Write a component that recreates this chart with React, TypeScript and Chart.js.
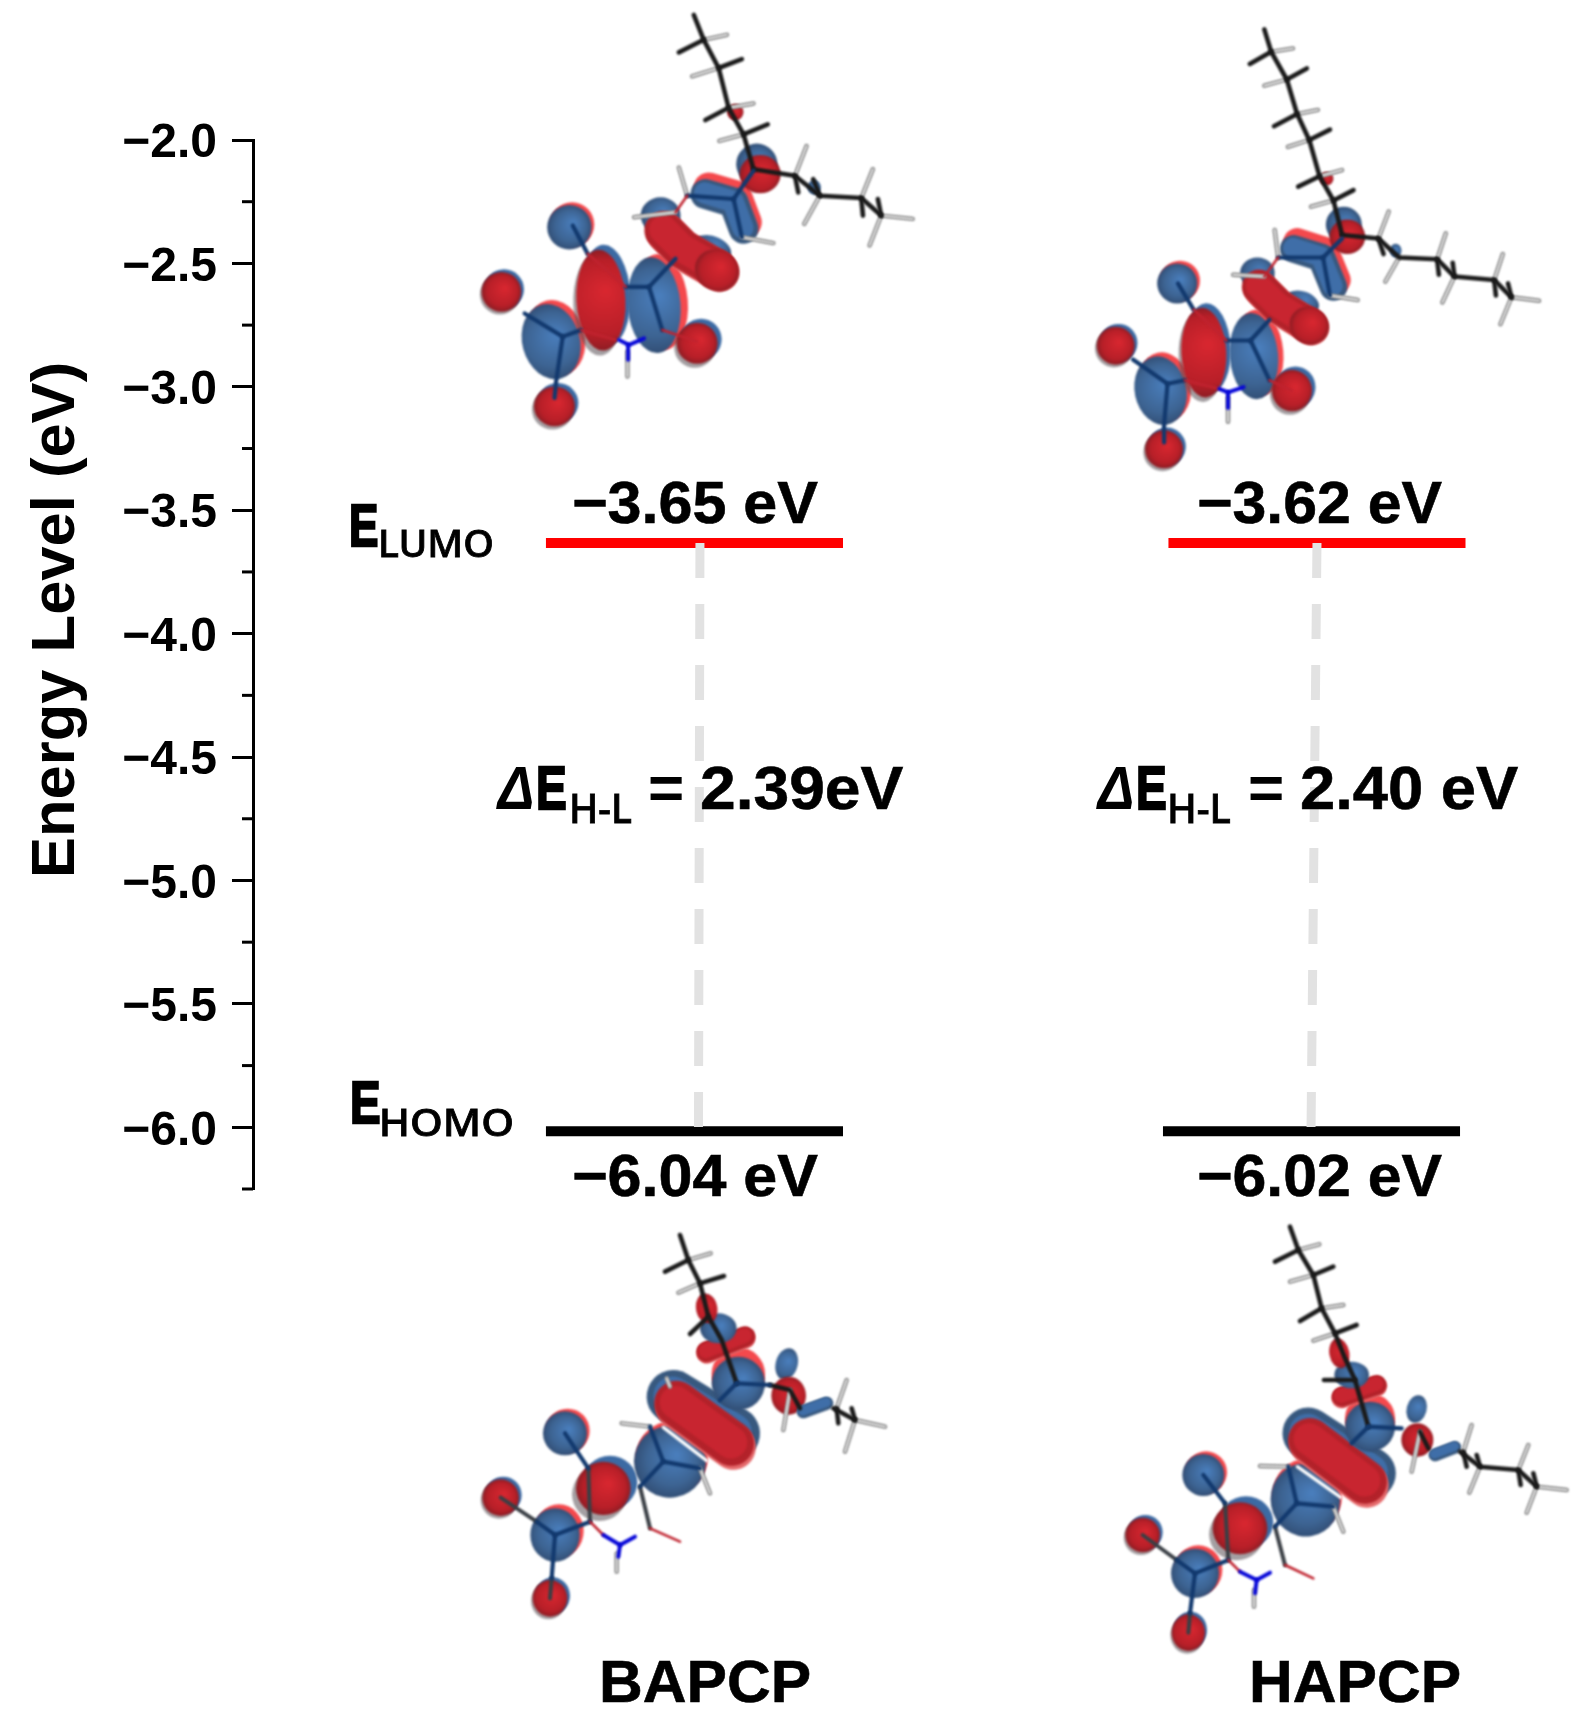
import React, { useEffect, useRef } from "react";
import { Chart, registerables } from "chart.js";

Chart.register(...registerables);

// ---- data ----
const compounds = ["BAPCP", "HAPCP"];
const compoundX = [1, 2];
const lumoLevel = [-3.633, -3.633];
const homoLevel = [-6.016, -6.016];
const lumoLabels = ["−3.65 eV", "−3.62 eV"];
const homoLabels = ["−6.04 eV", "−6.02 eV"];
const gapLabels = ["= 2.39eV", "= 2.40 eV"];
const lumoCentreShift = [0, 0];
const homoCentreShift = [0, -0.0088];
const gapTopShift = [0.0088, 0];
const gapBottomShift = [0.0064, -0.0096];
const LEVEL_HALF_WIDTH = 0.2386;
const axisMin = -6.25;
const axisMax = -2;
const axisStep = 0.25;

// ---- layout of the free annotations ----
const W = 1592;
const H = 1723;
const lumoTextSpan = [[574, 818], [1199, 1442]];
const homoTextSpan = [[574, 818], [1199, 1442]];
const nameSpan = [[603, 809], [1253, 1459]];
const gapAnchor = [
  { d: 496, e: 539, eEnd: 565, sub: [572, 631], eq: [650, 682], val: [702, 903] },
  { d: 1096, e: 1139, eEnd: 1165, sub: [1170, 1230], eq: [1250, 1282], val: [1302, 1518] },
];

// ---- orbital illustrations (lobes and sticks, in crop units) ----
type Lobe = any[];
const MOLS: any[] = [
  {
    ox: 450, oy: 0, s: 3.015,
    lobes: [
      ["e", 360, 685, 67, 67, 0, "B", 8, -8],
      ["e", 155, 880, 60, 60, 0, "R", 8, -8],
      ["e", 305, 1030, 87, 115, -15, "B", 14, -12],
      ["e", 315, 1225, 62, 60, 0, "R", 10, -10],
      ["e", 455, 905, 74, 152, -3, "R", 15, -15],
      ["e", 615, 920, 80, 145, -5, "B", 22, -10],
      ["e", 745, 1035, 62, 62, 0, "R", 12, -12],
      ["c", [[770, 585], [855, 610], [885, 690]], 90, "B", 10, -20],
      ["e", 635, 650, 60, 55, 0, "B", 0, 0],
      ["e", 790, 750, 60, 38, 20, "B", 0, 0],
      ["c", [[645, 695], [700, 750], [805, 810]], 118, "R", 8, 10],
      ["e", 805, 815, 68, 62, 30, "R", 0, 0],
      ["e", 925, 495, 62, 62, 0, "B", 0, 0],
      ["e", 935, 525, 62, 58, 0, "R", 0, 0],
      ["e", 860, 338, 25, 25, 0, "R", 0, 0],
      ["e", 1098, 565, 20, 22, 0, "B", 0, 0],
    ],
    bonds: {
      k: [[735, 45, 765, 120, 810, 205, 840, 325, 885, 405, 915, 510], [915, 510, 1040, 530, 1115, 590, 1240, 597, 1300, 650],
        [765, 120, 690, 158], [810, 205, 880, 178], [840, 325, 770, 362], [885, 405, 958, 375],
        [1040, 530, 1050, 580], [1115, 590, 1095, 540], [1240, 597, 1245, 650], [1300, 650, 1290, 600]],
      g: [[765, 120, 835, 105], [810, 205, 730, 230], [840, 325, 915, 312], [885, 405, 812, 425],
        [1040, 530, 1075, 440], [1115, 590, 1068, 675], [1240, 597, 1275, 510], [1300, 650, 1265, 740], [1300, 650, 1395, 660],
        [715, 590, 690, 505], [680, 640, 555, 655], [880, 715, 975, 733], [535, 1060, 535, 1135]],
      n: [[225, 945, 340, 1015, 320, 1150, 315, 1200], [340, 1015, 395, 995], [640, 995, 600, 865, 530, 865], [600, 865, 680, 780],
        [715, 590, 855, 600, 880, 715], [855, 600, 915, 515], [415, 765, 370, 680]],
      b: [[510, 1025, 540, 1040, 585, 1020], [537, 1040, 537, 1085]],
      r: [[395, 995, 500, 1025], [415, 765, 530, 865], [640, 995, 745, 1030], [680, 640, 715, 590]],
    },
  },
  {
    ox: 1050, oy: 0, s: 2.893,
    lobes: [
      ["e", 368, 820, 58, 58, 0, "B", 8, -8],
      ["e", 190, 1000, 55, 55, 0, "R", 8, -8],
      ["e", 320, 1130, 75, 100, -12, "B", 12, -12],
      ["e", 330, 1300, 55, 55, 0, "R", 8, -8],
      ["e", 445, 1020, 65, 130, -3, "R", 13, -13],
      ["e", 590, 1030, 70, 125, -5, "B", 15, -10],
      ["e", 700, 1130, 58, 60, 0, "R", 10, -10],
      ["c", [[705, 720], [785, 745], [820, 830]], 80, "B", 10, -20],
      ["e", 600, 790, 50, 45, 0, "B", 0, 0],
      ["e", 730, 875, 50, 32, 20, "B", 0, 0],
      ["c", [[605, 830], [660, 885], [750, 940]], 100, "R", 7, 9],
      ["e", 750, 942, 58, 54, 30, "R", 0, 0],
      ["e", 850, 650, 52, 52, 0, "B", 0, 0],
      ["e", 860, 685, 52, 50, 0, "R", 0, 0],
      ["e", 800, 517, 20, 20, 0, "R", 0, 0],
      ["e", 1000, 725, 17, 20, 0, "B", 0, 0],
    ],
    bonds: {
      k: [[620, 85, 640, 150, 685, 230, 715, 330, 750, 405, 780, 510, 820, 580, 845, 680], [845, 680, 950, 690, 1010, 745, 1120, 750, 1170, 800, 1285, 810, 1335, 860],
        [640, 150, 578, 185], [685, 230, 743, 198], [715, 330, 648, 365], [750, 405, 810, 375], [780, 510, 718, 540], [820, 580, 878, 550],
        [950, 690, 965, 735], [1120, 750, 1125, 795], [1170, 800, 1165, 760], [1285, 810, 1290, 855], [1335, 860, 1325, 820]],
      g: [[640, 150, 703, 140], [685, 230, 620, 248], [715, 330, 775, 318], [750, 405, 688, 425], [780, 510, 845, 492], [820, 580, 755, 598],
        [950, 690, 980, 612], [1010, 745, 970, 815], [1120, 750, 1145, 675], [1170, 800, 1135, 875], [1285, 810, 1310, 735], [1335, 860, 1303, 938], [1335, 860, 1415, 870],
        [660, 745, 650, 665], [620, 800, 530, 795], [810, 855, 890, 868], [515, 1150, 515, 1220]],
      n: [[240, 1040, 340, 1110, 330, 1230, 330, 1280], [340, 1110, 390, 1100], [635, 1100, 580, 985, 510, 985], [580, 985, 635, 925],
        [660, 745, 790, 745, 810, 855], [790, 745, 845, 690], [415, 895, 370, 820]],
      b: [[490, 1125, 515, 1135, 560, 1120], [515, 1135, 515, 1180]],
      r: [[390, 1100, 490, 1125], [415, 895, 510, 985], [635, 1100, 700, 1130], [620, 800, 660, 745]],
    },
  },
  {
    ox: 450, oy: 1220, s: 3,
    lobes: [
      ["e", 345, 640, 66, 66, 0, "B", 8, -8],
      ["e", 152, 833, 55, 55, 0, "R", 8, -8],
      ["e", 315, 945, 74, 80, 0, "B", 12, -12],
      ["e", 300, 1135, 52, 55, 0, "R", 8, -8],
      ["e", 460, 805, 82, 80, 0, "R", 20, -18],
      ["e", 660, 725, 108, 108, -10, "B", 6, -14],
      ["c", [[670, 530], [850, 640]], 160, "B", 0, 0],
      ["c", [[680, 550], [845, 670]], 135, "R", 5, 12],
      ["c", [[640, 622], [770, 722]], 10, "W", 0, 0],
      ["e", 865, 490, 80, 80, 0, "B", 0, -28],
      ["c", [[770, 395], [885, 350]], 62, "R", 0, 5],
      ["e", 805, 325, 55, 45, 0, "B", 0, 0],
      ["e", 770, 265, 32, 45, -10, "R", 0, 0],
      ["e", 1010, 432, 33, 48, 15, "B", 0, 0],
      ["e", 1016, 527, 52, 57, 0, "R", 0, 0],
      ["c", [[1060, 575], [1130, 550]], 40, "B", 0, 0],
    ],
    bonds: {
      k: [[690, 45, 715, 120, 750, 190, 775, 290, 815, 360, 860, 490], [960, 495, 1020, 510, 1050, 565], [1150, 565, 1215, 600],
        [715, 120, 645, 155], [750, 190, 822, 168], [775, 290, 720, 342], [1160, 565, 1165, 610], [1215, 600, 1205, 565]],
      g: [[715, 120, 782, 100], [750, 190, 685, 218], [1160, 565, 1190, 480], [1215, 600, 1185, 695], [1215, 600, 1305, 620], [1020, 510, 1000, 630],
        [600, 620, 515, 610], [750, 745, 780, 820], [500, 1000, 500, 1055], [650, 475, 660, 500]],
      n: [[260, 905, 315, 945, 305, 1075], [315, 945, 420, 905], [600, 620, 640, 725, 750, 745], [640, 725, 570, 800], [860, 490, 810, 540], [860, 490, 960, 495], [415, 745, 345, 640]],
      k2: [[260, 905, 152, 833], [570, 800, 600, 925], [415, 745, 420, 905], [305, 1075, 300, 1135]],
      b: [[460, 945, 510, 975, 555, 950], [510, 975, 505, 1010]],
      r: [[600, 925, 690, 965], [420, 905, 460, 945]],
    },
  },
  {
    ox: 1100, oy: 1210, s: 3,
    lobes: [
      ["e", 310, 795, 63, 63, 0, "B", 8, -8],
      ["e", 128, 975, 52, 52, 0, "R", 8, -8],
      ["e", 285, 1090, 72, 74, 0, "B", 10, -10],
      ["e", 265, 1268, 50, 55, 0, "R", 6, -8],
      ["e", 420, 955, 82, 78, 0, "R", 18, -18],
      ["e", 616, 870, 104, 110, -10, "B", 6, -14],
      ["c", [[625, 670], [810, 790]], 155, "B", 0, 0],
      ["c", [[630, 690], [795, 815]], 132, "R", 5, 12],
      ["c", [[592, 770], [722, 862]], 10, "W", 0, 0],
      ["e", 810, 650, 75, 75, 0, "B", 0, -25],
      ["c", [[725, 560], [830, 525]], 60, "R", 0, 5],
      ["e", 755, 495, 52, 40, 0, "B", 0, 0],
      ["e", 718, 430, 30, 45, -10, "R", 0, 0],
      ["e", 950, 597, 30, 42, 15, "B", 0, 0],
      ["e", 952, 690, 48, 50, 0, "R", 0, 0],
      ["c", [[1005, 735], [1065, 712]], 38, "B", 0, 0],
    ],
    bonds: {
      k: [[570, 50, 595, 120, 640, 195, 665, 295, 705, 370, 735, 445, 765, 510, 805, 650], [960, 665, 985, 715], [1080, 725, 1140, 770, 1255, 780, 1310, 830],
        [595, 120, 525, 155], [640, 195, 700, 170], [665, 295, 600, 333], [705, 370, 770, 345], [765, 510, 672, 510],
        [1090, 725, 1100, 770], [1140, 770, 1130, 735], [1255, 780, 1262, 825], [1310, 830, 1300, 790]],
      g: [[595, 120, 658, 103], [640, 195, 570, 215], [665, 295, 730, 285], [705, 370, 640, 392],
        [1090, 725, 1115, 645], [1140, 770, 1108, 848], [1255, 780, 1285, 705], [1310, 830, 1280, 908], [1310, 830, 1400, 840], [960, 665, 935, 785],
        [565, 770, 480, 768], [700, 890, 730, 965], [462, 1140, 462, 1190]],
      n: [[230, 1050, 285, 1090, 270, 1210], [285, 1090, 385, 1050], [565, 770, 590, 880, 700, 890], [590, 880, 525, 950], [805, 650, 755, 700], [805, 650, 905, 655], [375, 880, 310, 795]],
      k2: [[230, 1050, 128, 975], [525, 950, 555, 1065], [375, 880, 385, 1050], [270, 1210, 265, 1268]],
      b: [[420, 1085, 470, 1110, 510, 1088], [470, 1110, 465, 1150]],
      r: [[555, 1065, 640, 1105], [385, 1050, 420, 1085]],
    },
  },
];

const BOND_STYLE: Record<string, [string, number]> = {
  k: ["#1a1a1a", 4.6],
  k2: ["#3a3f45", 4],
  n: ["#12396e", 4.2],
  b: ["#0808d8", 4],
  r: ["#c0232f", 2.6],
};

function drawLobe(ctx: CanvasRenderingContext2D, l: Lobe, s: number) {
  if (l[0] === "e") {
    const [, cx, cy, rx, ry, rot, kind, dx, dy] = l;
    const path = (ox: number, oy: number) => {
      ctx.beginPath();
      ctx.ellipse((cx + ox) / s, (cy + oy) / s, rx / s, ry / s, (rot * Math.PI) / 180, 0, Math.PI * 2);
    };
    if (kind === "R" && (dx || dy)) {
      ctx.fillStyle = "rgba(90,80,85,0.55)";
      path(-dx * 0.6, -dy * 1.0);
      ctx.fill();
    }
    if (dx || dy) {
      ctx.fillStyle = kind === "R" ? "#3c6aa3" : "#f4494d";
      path(dx, dy);
      ctx.fill();
    }
    const gx = cx / s;
    const gy = cy / s;
    const g = ctx.createRadialGradient(gx + rx / s / 5, gy - ry / s / 5, 0, gx, gy, Math.max(rx, ry) / s);
    if (kind === "R") {
      g.addColorStop(0, "#d92730");
      g.addColorStop(0.75, "#b81f28");
      g.addColorStop(1, "#8e1d24");
    } else {
      g.addColorStop(0, "#4a7fbe");
      g.addColorStop(0.7, "#3d6493");
      g.addColorStop(1, "#324f76");
    }
    ctx.fillStyle = g;
    path(0, 0);
    ctx.fill();
  } else {
    const [, pts, w, kind, dx, dy] = l;
    const stroke = (ox: number, oy: number, width: number, color: string) => {
      ctx.beginPath();
      pts.forEach((p: number[], i: number) => {
        const x = (p[0] + ox) / s;
        const y = (p[1] + oy) / s;
        if (i) ctx.lineTo(x, y);
        else ctx.moveTo(x, y);
      });
      ctx.lineCap = "round";
      ctx.lineJoin = "round";
      ctx.lineWidth = width / s;
      ctx.strokeStyle = color;
      ctx.stroke();
    };
    if (kind === "W") {
      stroke(0, 0, w, "#ffffff");
      return;
    }
    if (dx || dy) stroke(dx, dy, w, kind === "R" ? "#e56a6c" : "#f4494d");
    stroke(0, 0, w, kind === "R" ? "#b3222a" : "#38597f");
    stroke(-2, -3, w * 0.72, kind === "R" ? "#c82530" : "#3f6ea8");
  }
}

function drawPath(ctx: CanvasRenderingContext2D, p: number[], s: number) {
  ctx.beginPath();
  for (let i = 0; i < p.length; i += 2) {
    if (i) ctx.lineTo(p[i] / s, p[i + 1] / s);
    else ctx.moveTo(p[i] / s, p[i + 1] / s);
  }
  ctx.stroke();
}

function drawMolecule(ctx: CanvasRenderingContext2D, m: any) {
  ctx.save();
  ctx.translate(m.ox, m.oy);
  ctx.filter = "blur(1px)";
  m.lobes.forEach((l: Lobe) => drawLobe(ctx, l, m.s));
  ctx.lineCap = "round";
  ctx.lineJoin = "round";
  (m.bonds.g || []).forEach((p: number[]) => {
    ctx.strokeStyle = "#8a8a8a";
    ctx.lineWidth = 4.4;
    drawPath(ctx, p, m.s);
    ctx.strokeStyle = "#e4e4e4";
    ctx.lineWidth = 2;
    drawPath(ctx, p, m.s);
  });
  ["k2", "k", "n", "r", "b"].forEach((key) => {
    const lines = m.bonds[key] || [];
    const [color, width] = BOND_STYLE[key];
    ctx.strokeStyle = color;
    ctx.lineWidth = width;
    lines.forEach((p: number[]) => drawPath(ctx, p, m.s));
  });
  ctx.restore();
}

// Draws text so that its ink fills the span x0..x1 on the given baseline.
function fitText(ctx: CanvasRenderingContext2D, text: string, x0: number, x1: number, base: number, font: string, weight = 0) {
  ctx.save();
  ctx.font = font;
  ctx.fillStyle = "#000";
  ctx.strokeStyle = "#000";
  ctx.textAlign = "left";
  ctx.textBaseline = "alphabetic";
  const m = ctx.measureText(text);
  const inkL = -m.actualBoundingBoxLeft;
  const inkR = m.actualBoundingBoxRight;
  const k = (x1 - x0) / (inkR - inkL);
  ctx.translate(x0 - inkL * k, base);
  ctx.scale(k, 1);
  ctx.fillText(text, 0, 0);
  if (weight) {
    ctx.lineWidth = weight;
    ctx.strokeText(text, 0, 0);
  }
  ctx.restore();
}

const FONT = '"Liberation Sans", Arial, sans-serif';
const SUBFONT = '"Noto Sans", "Liberation Sans", sans-serif';

const annotationPlugin = {
  id: "annotations",
  afterDraw(chart: any) {
    const ctx: CanvasRenderingContext2D = chart.ctx;
    const yScale = chart.scales.y;
    // minor ticks
    ctx.save();
    ctx.strokeStyle = "#000";
    ctx.lineWidth = 3;
    yScale.ticks.forEach((t: any) => {
      if (Math.abs(t.value * 2 - Math.round(t.value * 2)) > 1e-6) {
        const py = yScale.getPixelForValue(t.value);
        ctx.beginPath();
        ctx.moveTo(yScale.right - 11, py);
        ctx.lineTo(yScale.right, py);
        ctx.stroke();
      }
    });
    ctx.restore();

    MOLS.forEach((m) => drawMolecule(ctx, m));

    // y axis title
    ctx.save();
    ctx.translate(74, 878);
    ctx.rotate(-Math.PI / 2);
    ctx.font = `bold 61.5px ${FONT}`;
    ctx.fillStyle = "#000";
    ctx.textAlign = "left";
    ctx.fillText("Energy Level (eV)", 0, 0);
    ctx.restore();

    const big = `bold 60px ${FONT}`;
    compounds.forEach((name, i) => {
      fitText(ctx, lumoLabels[i], lumoTextSpan[i][0], lumoTextSpan[i][1], 523, big, 0.6);
      fitText(ctx, homoLabels[i], homoTextSpan[i][0], homoTextSpan[i][1], 1196, big, 0.6);
      fitText(ctx, name, nameSpan[i][0], nameSpan[i][1], 1702, big, 0.6);
      const g = gapAnchor[i];
      fitText(ctx, "Δ", g.d, g.e - 7, 809, `italic bold 62px ${FONT}`);
      fitText(ctx, "E", g.e, g.eEnd, 809, `bold 62px ${FONT}`, 2.4);
      fitText(ctx, "H-L", g.sub[0], g.sub[1], 823, `500 39px ${SUBFONT}`, 0.8);
      const [eq, ...rest] = gapLabels[i].split(" ");
      fitText(ctx, eq, g.eq[0], g.eq[1], 809, `bold 62px ${FONT}`);
      fitText(ctx, rest.join(" "), g.val[0], g.val[1], 809, `bold 62px ${FONT}`, 0.6);
    });

    fitText(ctx, "E", 352, 377, 546, big, 2.4);
    fitText(ctx, "LUMO", 381, 492, 557, `500 38px ${SUBFONT}`, 0.8);
    fitText(ctx, "E", 353, 379, 1123, big, 2.4);
    fitText(ctx, "HOMO", 382, 512, 1136, `500 38px ${SUBFONT}`, 0.8);
  },
};

export default function App() {
  const ref = useRef<HTMLCanvasElement | null>(null);

  useEffect(() => {
    if (!ref.current) return;
    const levelLine = (levels: number[], shift: number[], i: number) => [
      { x: compoundX[i] + shift[i] - LEVEL_HALF_WIDTH, y: levels[i] },
      { x: compoundX[i] + shift[i] + LEVEL_HALF_WIDTH, y: levels[i] },
    ];
    const base = { pointRadius: 0, showLine: true, fill: false, borderCapStyle: "butt" };
    const datasets: any[] = [];
    compounds.forEach((name, i) => {
      datasets.push({
        ...base,
        label: `${name} gap`,
        data: [
          { x: compoundX[i] + gapTopShift[i], y: lumoLevel[i] },
          { x: compoundX[i] + gapBottomShift[i], y: homoLevel[i] },
        ],
        borderColor: "#e2e2e2",
        borderWidth: 9,
        borderDash: [35, 26],
        order: 0,
      });
    });
    compounds.forEach((name, i) => {
      datasets.push({
        ...base,
        label: `${name} LUMO`,
        data: levelLine(lumoLevel, lumoCentreShift, i),
        borderColor: "#ff0000",
        borderWidth: 10,
        order: 1,
      });
      datasets.push({
        ...base,
        label: `${name} HOMO`,
        data: levelLine(homoLevel, homoCentreShift, i),
        borderColor: "#000000",
        borderWidth: 10,
        order: 1,
      });
    });

    const chart = new Chart(ref.current, {
      type: "scatter",
      data: { datasets },
      plugins: [annotationPlugin as any],
      options: {
        animation: false,
        responsive: false,
        maintainAspectRatio: false,
        devicePixelRatio: 1,
        layout: { padding: { top: 140, bottom: H - 1189, left: 0, right: 0 } },
        plugins: { legend: { display: false }, tooltip: { enabled: false }, title: { display: false } },
        scales: {
          x: { type: "linear", display: false, min: 0.2908, max: 2.4418 },
          y: {
            type: "linear",
            min: axisMin,
            max: axisMax,
            afterFit: (s: any) => {
              s.width = 253;
            },
            border: { color: "#000", width: 3 },
            grid: {
              drawOnChartArea: false,
              drawTicks: true,
              tickLength: 21,
              tickWidth: 3,
              tickColor: (c: any) =>
                Math.abs(c.tick.value * 2 - Math.round(c.tick.value * 2)) < 1e-6 ? "#000" : "rgba(0,0,0,0)",
            },
            ticks: {
              stepSize: axisStep,
              padding: 15,
              color: "#000",
              autoSkip: false,
              font: { family: FONT, weight: "bold", size: 48, lineHeight: 0.167 },
              callback: (v: any) => {
                const n = Number(v);
                if (Math.abs(n * 2 - Math.round(n * 2)) > 1e-6) return "";
                return ["", "−" + Math.abs(n).toFixed(1)];
              },
            },
          },
        },
      } as any,
    });
    return () => chart.destroy();
  }, []);

  return (
    <div style={{ position: "absolute", left: 0, top: 0, width: W, height: H, background: "#fff" }}>
      <canvas ref={ref} width={W} height={H} style={{ display: "block", width: W, height: H }} />
    </div>
  );
}
